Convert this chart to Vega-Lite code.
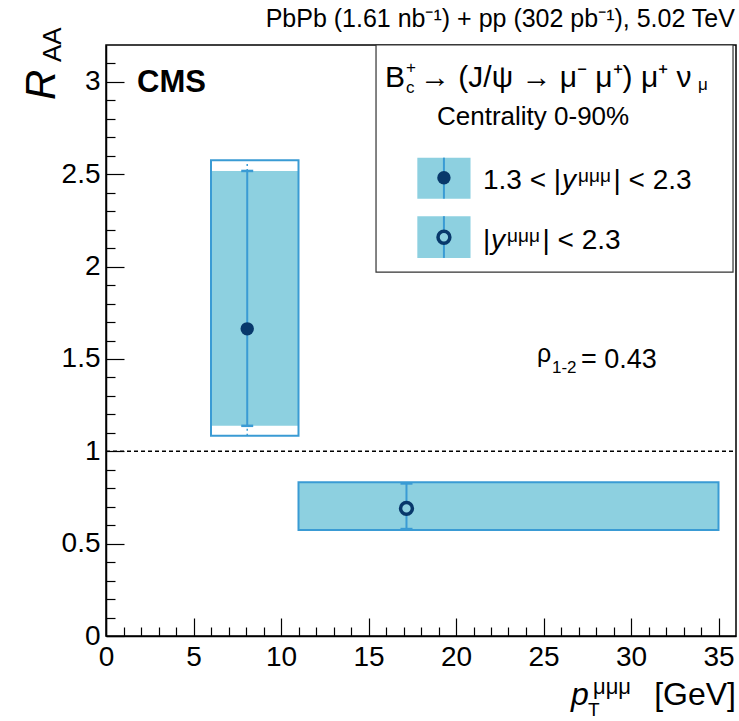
{
 "$schema": "https://vega.github.io/schema/vega-lite/v6.json",
 "width": 630, "height": 591,
 "autosize": "none",
 "padding": {"left": 106, "top": 45, "right": 3, "bottom": 85},
 "background": "white",
 "config": {"view": {"stroke": "#000", "strokeWidth": 1.5}, "font": "Liberation Sans", "text": {"font": "Liberation Sans", "color": "#000"}},
 "data": {"values": [{}]},
 "datasets": {
  "raa": [
   {"pt_lo": 6, "pt_hi": 11, "pt": 8.07, "raa": 1.663, "stat_lo": 1.138, "stat_hi": 2.518, "syst_lo": 1.138, "syst_hi": 2.518, "glob_lo": 1.084, "glob_hi": 2.576, "open": false},
   {"pt_lo": 11, "pt_hi": 35, "pt": 17.17, "raa": 0.691, "stat_lo": 0.579, "stat_hi": 0.826, "syst_lo": 0.578, "syst_hi": 0.829, "glob_lo": 0.574, "glob_hi": 0.833, "open": true}
  ]
 },
 "layer": [
  {
   "data": {"name": "raa"},
   "mark": {"type": "rect", "color": "#8DD0E0"},
   "encoding": {
    "x": {"field": "pt_lo", "type": "quantitative", "scale": {"domain": [0, 36], "nice": false, "zero": false},
     "axis": {"title": null, "grid": false, "tickCount": 36, "values": [0,1,2,3,4,5,6,7,8,9,10,11,12,13,14,15,16,17,18,19,20,21,22,23,24,25,26,27,28,29,30,31,32,33,34,35],
      "labelExpr": "datum.value % 5 === 0 && datum.value < 36 ? '' + datum.value : ''",
      "tickSize": {"condition": {"test": "datum.value % 5 === 0", "value": -18}, "value": -9},
      "tickColor": "#000", "tickWidth": 1.2, "domainColor": "#000", "domainWidth": 1.5,
      "labelFont": "Liberation Sans", "labelFontSize": 28, "labelColor": "#000", "labelPadding": 25, "labelOverlap": false, "labelFlush": false}},
    "x2": {"field": "pt_hi"},
    "y": {"field": "syst_lo", "type": "quantitative", "scale": {"domain": [0, 3.2], "nice": false, "zero": false},
     "axis": {"title": null, "grid": false, "tickCount": 32, "values": [0,0.1,0.2,0.3,0.4,0.5,0.6,0.7,0.8,0.9,1,1.1,1.2,1.3,1.4,1.5,1.6,1.7,1.8,1.9,2,2.1,2.2,2.3,2.4,2.5,2.6,2.7,2.8,2.9,3,3.1],
      "labelExpr": "abs(datum.value*2 - round(datum.value*2)) < 0.001 ? '' + round(datum.value*10)/10 : ''",
      "tickSize": {"condition": {"test": "abs(datum.value*2 - round(datum.value*2)) < 0.001", "value": -18}, "value": -9},
      "tickColor": "#000", "tickWidth": 1.2, "domainColor": "#000", "domainWidth": 1.5,
      "labelFont": "Liberation Sans", "labelFontSize": 28, "labelColor": "#000", "labelPadding": 24, "labelOverlap": false, "labelFlush": false}},
    "y2": {"field": "syst_hi"}
   }
  },
  {
   "data": {"name": "raa"},
   "mark": {"type": "rect", "fill": null, "fillOpacity": 0, "stroke": "#3A9BD4", "strokeWidth": 2},
   "encoding": {
    "x": {"field": "pt_lo", "type": "quantitative"}, "x2": {"field": "pt_hi"},
    "y": {"field": "glob_lo", "type": "quantitative"}, "y2": {"field": "glob_hi"}
   }
  },
  {
   "mark": {"type": "rule", "color": "#000", "strokeWidth": 1.5, "strokeDash": [4, 3]},
   "encoding": {"x": {"datum": 0}, "x2": {"datum": 36}, "y": {"datum": 1}}
  },
  {
   "data": {"name": "raa"},
   "mark": {"type": "rule", "color": "#3A9BD4", "strokeWidth": 1.5, "strokeDash": [2, 3]},
   "encoding": {"x": {"field": "pt", "type": "quantitative"}, "y": {"field": "stat_hi", "type": "quantitative"}, "y2": {"field": "glob_hi"}}
  },
  {
   "data": {"name": "raa"},
   "mark": {"type": "rule", "color": "#3A9BD4", "strokeWidth": 1.5, "strokeDash": [2, 3]},
   "encoding": {"x": {"field": "pt", "type": "quantitative"}, "y": {"field": "glob_lo", "type": "quantitative"}, "y2": {"field": "stat_lo"}}
  },
  {
   "data": {"name": "raa"},
   "mark": {"type": "rule", "color": "#3A9BD4", "strokeWidth": 2},
   "encoding": {"x": {"field": "pt", "type": "quantitative"}, "y": {"field": "stat_lo", "type": "quantitative"}, "y2": {"field": "stat_hi"}}
  },
  {
   "data": {"name": "raa"},
   "mark": {"type": "tick", "orient": "horizontal", "color": "#3A9BD4", "size": 12, "thickness": 2.5, "opacity": 1},
   "encoding": {"x": {"field": "pt", "type": "quantitative"}, "y": {"field": "stat_lo", "type": "quantitative"}}
  },
  {
   "data": {"name": "raa"},
   "mark": {"type": "tick", "orient": "horizontal", "color": "#3A9BD4", "size": 12, "thickness": 2.5, "opacity": 1},
   "encoding": {"x": {"field": "pt", "type": "quantitative"}, "y": {"field": "stat_hi", "type": "quantitative"}}
  },
  {
   "data": {"name": "raa"},
   "transform": [{"filter": "!datum.open"}],
   "mark": {"type": "point", "shape": "circle", "filled": true, "color": "#08386B", "size": 180, "opacity": 1},
   "encoding": {"x": {"field": "pt", "type": "quantitative"}, "y": {"field": "raa", "type": "quantitative"}}
  },
  {
   "data": {"name": "raa"},
   "transform": [{"filter": "datum.open"}],
   "mark": {"type": "point", "shape": "circle", "fill": "#8DD0E0", "fillOpacity": 1, "stroke": "#08386B", "strokeWidth": 3.5, "size": 140, "opacity": 1},
   "encoding": {"x": {"field": "pt", "type": "quantitative"}, "y": {"field": "raa", "type": "quantitative"}}
  },
  {
   "mark": {"type": "rect", "fill": "white", "stroke": "#333", "strokeWidth": 1.2},
   "encoding": {"x": {"datum": 15.43}, "x2": {"datum": 35.83}, "y": {"datum": 1.97}, "y2": {"datum": 3.2}}
  },
  {
   "mark": {"type": "rect", "fill": "#8DD0E0"},
   "encoding": {"x": {"datum": 17.79}, "x2": {"datum": 20.83}, "y": {"datum": 2.368}, "y2": {"datum": 2.59}}
  },
  {
   "mark": {"type": "rect", "fill": "#8DD0E0"},
   "encoding": {"x": {"datum": 17.79}, "x2": {"datum": 20.83}, "y": {"datum": 2.047}, "y2": {"datum": 2.273}}
  },
  {
   "mark": {"type": "rule", "color": "#3A9BD4", "strokeWidth": 2},
   "encoding": {"x": {"datum": 19.31}, "y": {"datum": 2.368}, "y2": {"datum": 2.59}}
  },
  {
   "mark": {"type": "rule", "color": "#3A9BD4", "strokeWidth": 2},
   "encoding": {"x": {"datum": 19.31}, "y": {"datum": 2.047}, "y2": {"datum": 2.273}}
  },
  {
   "mark": {"type": "point", "shape": "circle", "filled": true, "color": "#08386B", "size": 180, "opacity": 1},
   "encoding": {"x": {"datum": 19.31}, "y": {"datum": 2.481}}
  },
  {
   "mark": {"type": "point", "shape": "circle", "fill": "#8DD0E0", "fillOpacity": 1, "stroke": "#08386B", "strokeWidth": 3.5, "size": 140, "opacity": 1},
   "encoding": {"x": {"datum": 19.31}, "y": {"datum": 2.159}}
  },
  {"mark": {"type": "text", "text": "PbPb (1.61 nb⁻¹) + pp (302 pb⁻¹), 5.02 TeV", "align": "right", "baseline": "alphabetic", "fontSize": 25},
   "encoding": {"x": {"datum": 35.94}, "y": {"datum": 3.2975}}},
  {"mark": {"type": "text", "text": "CMS", "align": "left", "baseline": "alphabetic", "fontSize": 31, "fontWeight": "bold"},
   "encoding": {"x": {"datum": 1.771}, "y": {"datum": 2.9455}}},
  {"mark": {"type": "text", "text": "R", "align": "left", "baseline": "alphabetic", "fontSize": 42, "fontStyle": "italic", "angle": 270},
   "encoding": {"x": {"datum": -2.914}, "y": {"datum": 2.902}}},
  {"mark": {"type": "text", "text": "AA", "align": "left", "baseline": "alphabetic", "fontSize": 26, "angle": 270},
   "encoding": {"x": {"datum": -2.571}, "y": {"datum": 3.108}}},
  {"mark": {"type": "text", "text": "p", "align": "left", "baseline": "alphabetic", "fontSize": 32, "fontStyle": "italic"},
   "encoding": {"x": {"datum": 26.571}, "y": {"datum": -0.3736}}},
  {"mark": {"type": "text", "text": "T", "align": "left", "baseline": "alphabetic", "fontSize": 19},
   "encoding": {"x": {"datum": 27.543}, "y": {"datum": -0.4332}}},
  {"mark": {"type": "text", "text": "μμμ", "align": "left", "baseline": "alphabetic", "fontSize": 22},
   "encoding": {"x": {"datum": 27.829}, "y": {"datum": -0.314}}},
  {"mark": {"type": "text", "text": "[GeV]", "align": "right", "baseline": "alphabetic", "fontSize": 32},
   "encoding": {"x": {"datum": 36.0}, "y": {"datum": -0.3736}}},
  {"mark": {"type": "text", "text": "B", "align": "left", "baseline": "alphabetic", "fontSize": 30},
   "encoding": {"x": {"datum": 15.943}, "y": {"datum": 2.973}}},
  {"mark": {"type": "text", "text": "+", "align": "left", "baseline": "alphabetic", "fontSize": 17},
   "encoding": {"x": {"datum": 17.143}, "y": {"datum": 3.048}}},
  {"mark": {"type": "text", "text": "c", "align": "left", "baseline": "alphabetic", "fontSize": 17},
   "encoding": {"x": {"datum": 17.143}, "y": {"datum": 2.94}}},
  {"mark": {"type": "text", "text": "→ (J/ψ → μ⁻ μ⁺) μ⁺ ν", "align": "left", "baseline": "alphabetic", "fontSize": 30},
   "encoding": {"x": {"datum": 17.943}, "y": {"datum": 2.973}}},
  {"mark": {"type": "text", "text": "μ", "align": "left", "baseline": "alphabetic", "fontSize": 17},
   "encoding": {"x": {"datum": 33.83}, "y": {"datum": 2.956}}},
  {"mark": {"type": "text", "text": "Centrality 0-90%", "align": "left", "baseline": "alphabetic", "fontSize": 26},
   "encoding": {"x": {"datum": 18.914}, "y": {"datum": 2.767}}},
  {"mark": {"type": "text", "text": "1.3 < |", "align": "left", "baseline": "alphabetic", "fontSize": 28},
   "encoding": {"x": {"datum": 21.543}, "y": {"datum": 2.42}}},
  {"mark": {"type": "text", "text": "y", "align": "left", "baseline": "alphabetic", "fontSize": 28, "fontStyle": "italic"},
   "encoding": {"x": {"datum": 26.057}, "y": {"datum": 2.42}}},
  {"mark": {"type": "text", "text": "μμμ", "align": "left", "baseline": "alphabetic", "fontSize": 19},
   "encoding": {"x": {"datum": 26.971}, "y": {"datum": 2.458}}},
  {"mark": {"type": "text", "text": "| < 2.3", "align": "left", "baseline": "alphabetic", "fontSize": 28},
   "encoding": {"x": {"datum": 29.0}, "y": {"datum": 2.42}}},
  {"mark": {"type": "text", "text": "|", "align": "left", "baseline": "alphabetic", "fontSize": 28},
   "encoding": {"x": {"datum": 21.543}, "y": {"datum": 2.095}}},
  {"mark": {"type": "text", "text": "y", "align": "left", "baseline": "alphabetic", "fontSize": 28, "fontStyle": "italic"},
   "encoding": {"x": {"datum": 22.0}, "y": {"datum": 2.095}}},
  {"mark": {"type": "text", "text": "μμμ", "align": "left", "baseline": "alphabetic", "fontSize": 19},
   "encoding": {"x": {"datum": 22.914}, "y": {"datum": 2.133}}},
  {"mark": {"type": "text", "text": "| < 2.3", "align": "left", "baseline": "alphabetic", "fontSize": 28},
   "encoding": {"x": {"datum": 24.943}, "y": {"datum": 2.095}}},
  {"mark": {"type": "text", "text": "ρ", "align": "left", "baseline": "alphabetic", "fontSize": 25},
   "encoding": {"x": {"datum": 24.629}, "y": {"datum": 1.4836}}},
  {"mark": {"type": "text", "text": "1-2", "align": "left", "baseline": "alphabetic", "fontSize": 17},
   "encoding": {"x": {"datum": 25.486}, "y": {"datum": 1.424}}},
  {"mark": {"type": "text", "text": "= 0.43", "align": "left", "baseline": "alphabetic", "fontSize": 27},
   "encoding": {"x": {"datum": 27.143}, "y": {"datum": 1.451}}}
 ]
}
